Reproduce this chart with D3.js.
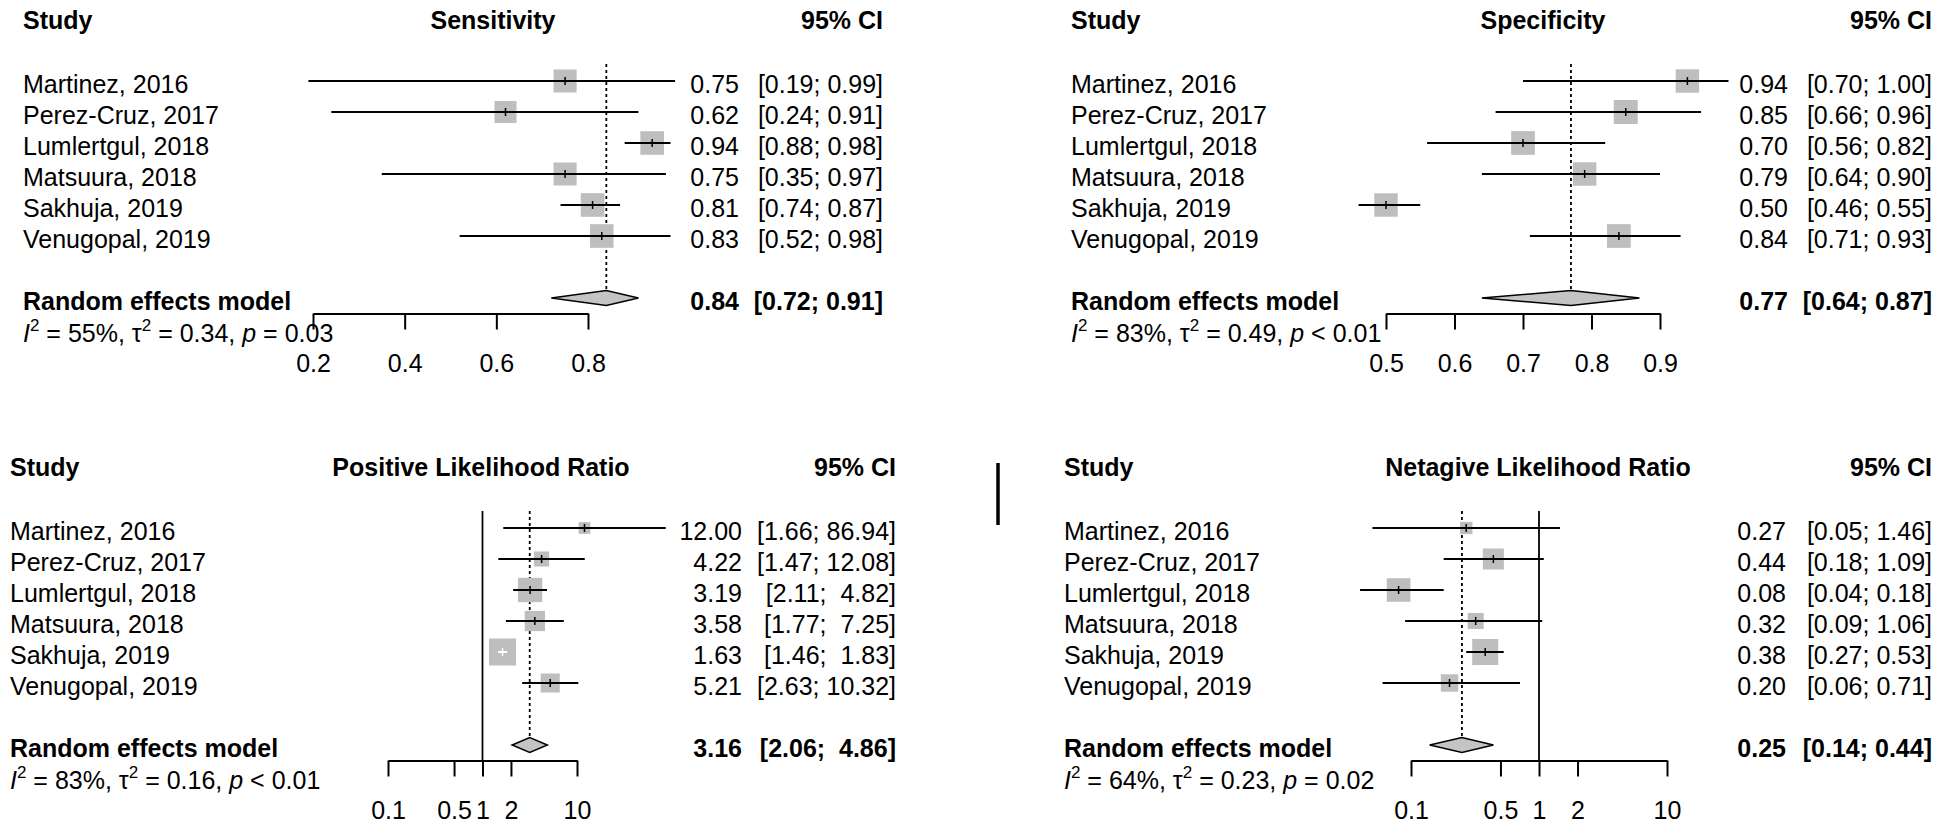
<!DOCTYPE html>
<html>
<head>
<meta charset="utf-8">
<script src="https://cdn.jsdelivr.net/npm/d3@7"></script>
<style>
  body { margin: 0; background: #fff; }
  text { font-family: "Liberation Sans", Arial, sans-serif; fill: #000; white-space: pre; }
</style>
</head>
<body>
<svg id="chart" width="1946" height="830"></svg>
<script>
const W = 1946;
const H = 830;
const FS = 25;

const studies = ['Martinez, 2016', 'Perez-Cruz, 2017', 'Lumlertgul, 2018', 'Matsuura, 2018', 'Sakhuja, 2019', 'Venugopal, 2019'];

// sensitivity
const sensEst = [0.75, 0.62, 0.94, 0.75, 0.81, 0.83];
const sensLo = [0.19, 0.24, 0.88, 0.35, 0.74, 0.52];
const sensHi = [0.99, 0.91, 0.98, 0.97, 0.87, 0.98];
const sensWeight = [16.5, 15.1, 17.3, 16.5, 17.3, 17.3];
const sensRE = [0.84, 0.72, 0.91];

// specificity
const specEst = [0.94, 0.85, 0.70, 0.79, 0.50, 0.84];
const specLo = [0.70, 0.66, 0.56, 0.64, 0.46, 0.71];
const specHi = [1.00, 0.96, 0.82, 0.90, 0.55, 0.93];
const specWeight = [16.4, 17.2, 16.8, 16.4, 16.4, 16.8];
const specRE = [0.77, 0.64, 0.87];

// positive likelihood ratio
const plrEst = [12.00, 4.22, 3.19, 3.58, 1.63, 5.21];
const plrLo = [1.66, 1.47, 2.11, 1.77, 1.46, 2.63];
const plrHi = [86.94, 12.08, 4.82, 7.25, 1.83, 10.32];
const plrWeight = [5.6, 9.2, 24.0, 16.8, 29.7, 14.7];
const plrRE = [3.16, 2.06, 4.86];

// negative likelihood ratio
const nlrEst = [0.27, 0.44, 0.08, 0.32, 0.38, 0.20];
const nlrLo = [0.05, 0.18, 0.04, 0.09, 0.27, 0.06];
const nlrHi = [1.46, 1.09, 0.18, 1.06, 0.53, 0.71];
const nlrWeight = [6.4, 18.5, 23.3, 10.7, 28.3, 12.7];
const nlrRE = [0.25, 0.14, 0.44];

const titles = ['Sensitivity', 'Specificity', 'Positive Likelihood Ratio', 'Netagive Likelihood Ratio'];
const hetI2 = ['55%', '83%', '83%', '64%'];
const hetTau2 = ['0.34', '0.49', '0.16', '0.23'];
const hetP = ['= 0.03', '< 0.01', '< 0.01', '= 0.02'];

const sensTicks = [0.2, 0.4, 0.6, 0.8];
const specTicks = [0.5, 0.6, 0.7, 0.8, 0.9];
const ratioTicks = [0.1, 0.5, 1, 2, 10];
const sensTickLabels = ['0.2', '0.4', '0.6', '0.8'];
const specTickLabels = ['0.5', '0.6', '0.7', '0.8', '0.9'];
const ratioTickLabels = ['0.1', '0.5', '1', '2', '10'];

const panels = [
    { est: sensEst, lo: sensLo, hi: sensHi, w: sensWeight, re: sensRE, ticks: sensTicks, labels: sensTickLabels,
      scale: d3.scaleLinear().domain([0.2, 0.8]).range([313, 588]), box: 23.6, ref: null,
      y0: 0, xStudy: 23, xTitle: 493, xEst: 739, xCI: 883 },
    { est: specEst, lo: specLo, hi: specHi, w: specWeight, re: specRE, ticks: specTicks, labels: specTickLabels,
      scale: d3.scaleLinear().domain([0.5, 0.9]).range([1386, 1660]), box: 24, ref: null,
      y0: 0, xStudy: 1071, xTitle: 1543, xEst: 1788, xCI: 1932 },
    { est: plrEst, lo: plrLo, hi: plrHi, w: plrWeight, re: plrRE, ticks: ratioTicks, labels: ratioTickLabels,
      scale: d3.scaleLog().domain([0.1, 10]).range([388, 577]), box: 27, ref: 1,
      y0: 447, xStudy: 10, xTitle: 481, xEst: 742, xCI: 896 },
    { est: nlrEst, lo: nlrLo, hi: nlrHi, w: nlrWeight, re: nlrRE, ticks: ratioTicks, labels: ratioTickLabels,
      scale: d3.scaleLog().domain([0.1, 10]).range([1411, 1667]), box: 26, ref: 1,
      y0: 447, xStudy: 1064, xTitle: 1538, xEst: 1786, xCI: 1932 }
];

const svg = d3.select('#chart');
svg.append('rect').attr('width', W).attr('height', H).attr('fill', '#fff');

function ciText(lo, hi, wLo, wHi) {
    return '[' + lo.toFixed(2).padStart(wLo) + '; ' + hi.toFixed(2).padStart(wHi) + ']';
}

panels.forEach((p, k) => {
    const g = svg.append('g');
    const x = p.scale;
    const rowY = i => p.y0 + 81 + i * 31;
    const reY = p.y0 + 298;
    const axisY = p.y0 + 313.5;

    // header
    g.append('text').attr('x', p.xStudy).attr('y', p.y0 + 29)
        .attr('font-size', FS).attr('font-weight', 'bold').text('Study');
    g.append('text').attr('x', p.xTitle).attr('y', p.y0 + 29).attr('text-anchor', 'middle')
        .attr('font-size', FS).attr('font-weight', 'bold').text(titles[k]);
    g.append('text').attr('x', p.xCI).attr('y', p.y0 + 29).attr('text-anchor', 'end')
        .attr('font-size', FS).attr('font-weight', 'bold').text('95% CI');

    // reference line at 1 for ratios
    if (p.ref !== null) {
        g.append('line')
            .attr('x1', x(p.ref)).attr('x2', x(p.ref))
            .attr('y1', rowY(0) - 17).attr('y2', axisY)
            .attr('stroke', '#000').attr('stroke-width', 1.8);
    }

    // pooled estimate dashed line
    g.append('line')
        .attr('x1', x(p.re[0])).attr('x2', x(p.re[0]))
        .attr('y1', rowY(0) - 17).attr('y2', reY - 7.5)
        .attr('stroke', '#000').attr('stroke-width', 1.8).attr('stroke-dasharray', '3,3');

    const size = d3.scaleSqrt().domain([0, d3.max(p.w)]).range([0, p.box]);
    const wLo = d3.max(p.lo.concat([p.re[1]]), v => v.toFixed(2).length);
    const wHi = d3.max(p.hi.concat([p.re[2]]), v => v.toFixed(2).length);

    studies.forEach((s, i) => {
        const y = rowY(i);
        const cx = x(p.est[i]);
        const b = size(p.w[i]);
        const inside = x(p.lo[i]) >= cx - b / 2 && x(p.hi[i]) <= cx + b / 2;
        const col = inside ? '#fff' : '#000';

        g.append('rect')
            .attr('x', cx - b / 2).attr('y', y - b / 2)
            .attr('width', b).attr('height', b)
            .attr('fill', '#bebebe');
        g.append('line')
            .attr('x1', x(p.lo[i])).attr('x2', x(p.hi[i]))
            .attr('y1', y).attr('y2', y)
            .attr('stroke', col).attr('stroke-width', 2);
        g.append('line')
            .attr('x1', cx).attr('x2', cx)
            .attr('y1', y - 4).attr('y2', y + 4)
            .attr('stroke', col).attr('stroke-width', 1.5);

        g.append('text').attr('x', p.xStudy).attr('y', y + 12)
            .attr('font-size', FS).text(s);
        g.append('text').attr('x', p.xEst).attr('y', y + 12).attr('text-anchor', 'end')
            .attr('font-size', FS).text(p.est[i].toFixed(2));
        g.append('text').attr('x', p.xCI).attr('y', y + 12).attr('text-anchor', 'end')
            .attr('font-size', FS).text(ciText(p.lo[i], p.hi[i], wLo, wHi));
    });

    // random effects diamond
    const d = [[x(p.re[1]), reY], [x(p.re[0]), reY - 7.5], [x(p.re[2]), reY], [x(p.re[0]), reY + 7.5]];
    g.append('path')
        .attr('d', d3.line()(d) + 'Z')
        .attr('fill', '#c4c4c4').attr('stroke', '#000').attr('stroke-width', 1.5);

    g.append('text').attr('x', p.xStudy).attr('y', reY + 12)
        .attr('font-size', FS).attr('font-weight', 'bold').text('Random effects model');
    g.append('text').attr('x', p.xEst).attr('y', reY + 12).attr('text-anchor', 'end')
        .attr('font-size', FS).attr('font-weight', 'bold').text(p.re[0].toFixed(2));
    g.append('text').attr('x', p.xCI).attr('y', reY + 12).attr('text-anchor', 'end')
        .attr('font-size', FS).attr('font-weight', 'bold').text(ciText(p.re[1], p.re[2], wLo, wHi));

    // heterogeneity
    const het = g.append('text').attr('x', p.xStudy).attr('y', p.y0 + 342).attr('font-size', FS);
    het.append('tspan').attr('font-style', 'italic').text('I');
    het.append('tspan').attr('dy', -11).attr('font-size', 17).text('2');
    het.append('tspan').attr('dy', 11).text(' = ' + hetI2[k] + ', \u03c4');
    het.append('tspan').attr('dy', -11).attr('font-size', 17).text('2');
    het.append('tspan').attr('dy', 11).text(' = ' + hetTau2[k] + ', ');
    het.append('tspan').attr('font-style', 'italic').text('p');
    het.append('tspan').text(' ' + hetP[k]);

    // axis
    const axis = d3.axisBottom(x)
        .tickValues(p.ticks)
        .tickFormat((v, i) => p.labels[i])
        .tickSize(16)
        .tickSizeOuter(0)
        .tickPadding(25);
    const ag = g.append('g')
        .attr('transform', 'translate(0,' + axisY + ')')
        .call(axis);
    ag.select('.domain').attr('stroke', '#000').attr('stroke-width', 2);
    ag.selectAll('.tick line').attr('stroke', '#000').attr('stroke-width', 2);
    ag.selectAll('.tick text')
        .attr('font-size', FS)
        .attr('font-family', '"Liberation Sans", Arial, sans-serif')
        .attr('fill', '#000');
});

// stray mark between the lower panels
svg.append('line')
    .attr('x1', 998).attr('x2', 998)
    .attr('y1', 463).attr('y2', 525)
    .attr('stroke', '#000').attr('stroke-width', 3.5);
</script>
</body>
</html>
